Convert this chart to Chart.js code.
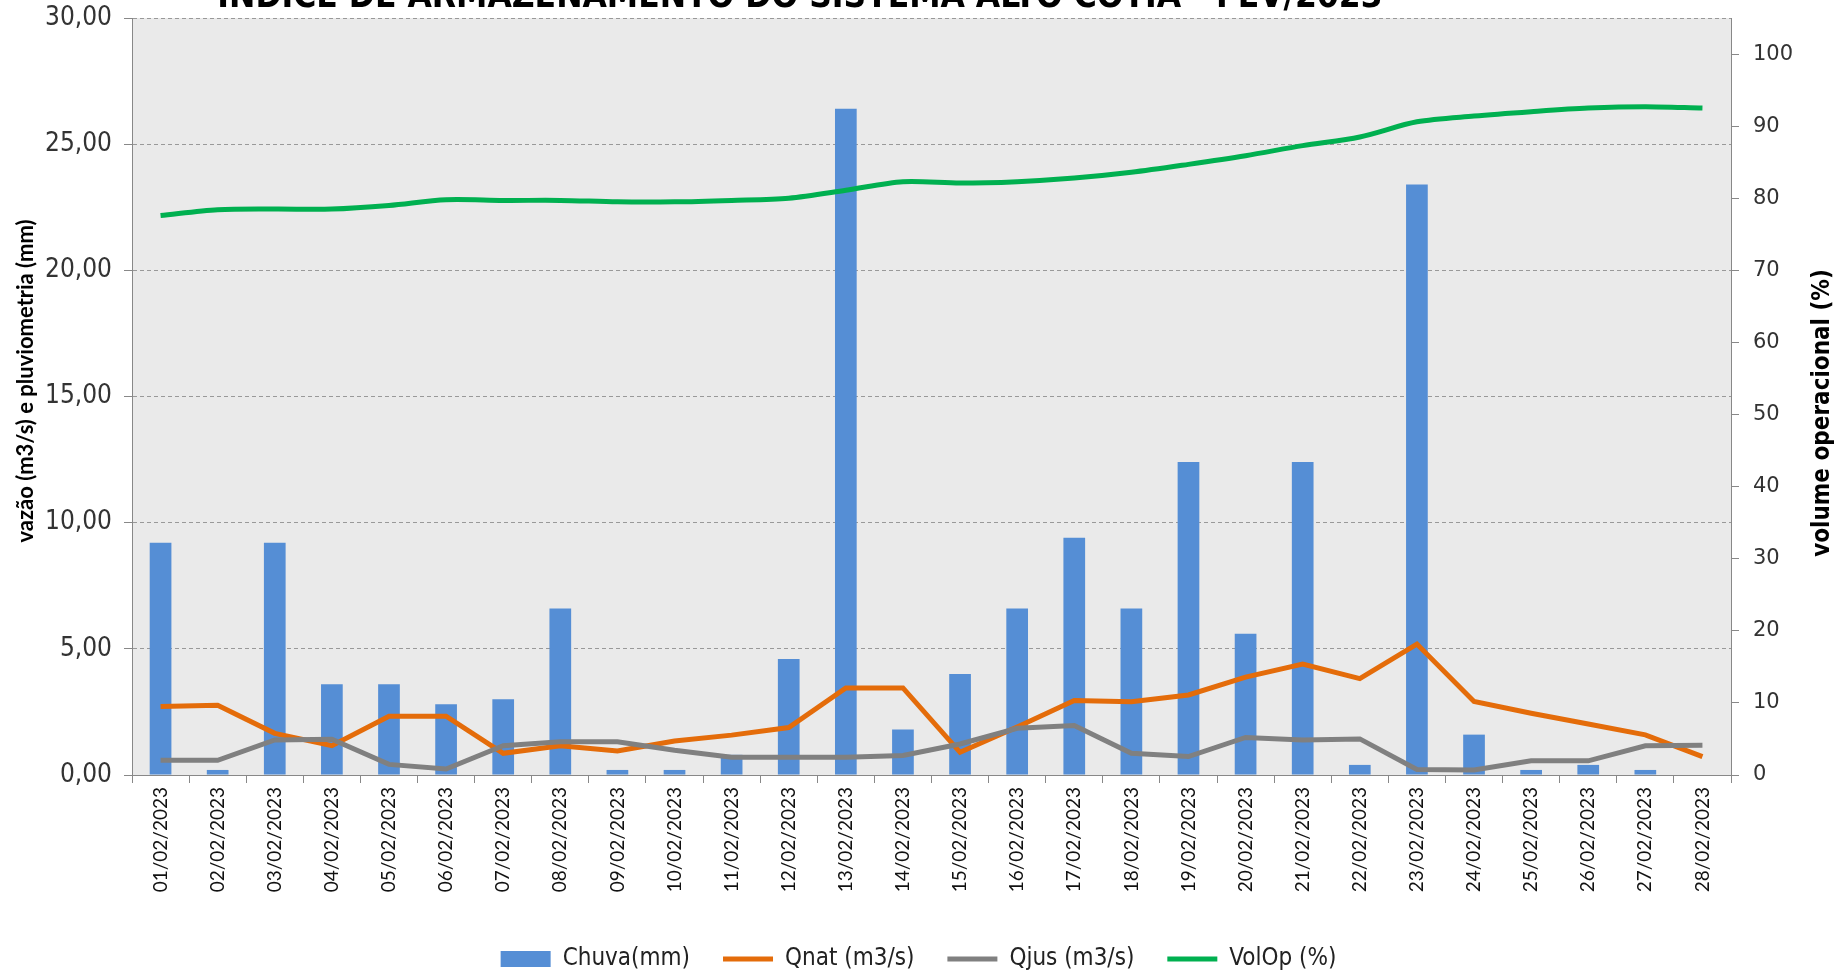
<!DOCTYPE html>
<html>
<head>
<meta charset="utf-8">
<script src="https://cdn.jsdelivr.net/npm/chart.js@4"></script>
<style>
  html, body { margin: 0; padding: 0; background: #fff; }
  canvas { display: block; }
</style>
</head>
<body>
<canvas id="grafico" width="1837" height="970"></canvas>
<script>
// dados
const dias = ['01/02/2023', '02/02/2023', '03/02/2023', '04/02/2023', '05/02/2023', '06/02/2023', '07/02/2023',
  '08/02/2023', '09/02/2023', '10/02/2023', '11/02/2023', '12/02/2023', '13/02/2023', '14/02/2023',
  '15/02/2023', '16/02/2023', '17/02/2023', '18/02/2023', '19/02/2023', '20/02/2023', '21/02/2023',
  '22/02/2023', '23/02/2023', '24/02/2023', '25/02/2023', '26/02/2023', '27/02/2023', '28/02/2023'];
const chuva = [9.2, 0.2, 9.2, 3.6, 3.6, 2.8, 3.0, 6.6, 0.2, 0.2, 0.8, 4.6, 26.4, 1.8,
  4.0, 6.6, 9.4, 6.6, 12.4, 5.6, 12.4, 0.4, 23.4, 1.6, 0.2, 0.4, 0.2, null];
const qnat = [2.71, 2.76, 1.65, 1.16, 2.33, 2.33, 0.86, 1.16, 0.95, 1.35, 1.58, 1.88, 3.45, 3.45,
  0.9, 1.9, 2.95, 2.9, 3.17, 3.88, 4.4, 3.82, 5.19, 2.91, 2.45, 2.02, 1.59, 0.73];
const qjus = [0.58, 0.58, 1.39, 1.42, 0.42, 0.24, 1.16, 1.32, 1.32, 0.98, 0.7, 0.7, 0.7, 0.77,
  1.23, 1.85, 1.96, 0.86, 0.73, 1.49, 1.39, 1.43, 0.22, 0.2, 0.56, 0.56, 1.16, 1.18];
const volOp = [77.6, 78.4, 78.5, 78.5, 79.0, 79.8, 79.7, 79.7, 79.5, 79.5, 79.7, 80.0, 81.1, 82.3,
  82.1, 82.3, 82.8, 83.6, 84.7, 85.9, 87.3, 88.5, 90.6, 91.4, 92.0, 92.5, 92.7, 92.5];

const titulo = 'ÍNDICE DE ARMAZENAMENTO DO SISTEMA ALTO COTIA - FEV/2023';
const tituloEsq = 'vazão (m3/s) e pluviometria (mm)';
const tituloDir = 'volume operacional (%)';
const narrow = '"Liberation Sans Narrow", "Arial Narrow", "DejaVu Sans Condensed", sans-serif';

// texto girado de baixo para cima
function textoVertical(ctx, texto, x, y) {
  ctx.save();
  ctx.translate(x, y);
  ctx.rotate(-Math.PI / 2);
  ctx.textAlign = 'center';
  ctx.textBaseline = 'middle';
  ctx.fillText(texto, 0, 0);
  ctx.restore();
}

// fundo cinza da area do grafico + titulos
const extras = {
  id: 'extras',
  beforeDraw(chart) {
    const { ctx, chartArea: a } = chart;
    ctx.save();
    ctx.fillStyle = '#eaeaea';
    ctx.fillRect(a.left, a.top, a.right - a.left, a.bottom - a.top);
    ctx.restore();
  },
  afterDraw(chart) {
    const ctx = chart.ctx;
    ctx.save();
    ctx.fillStyle = '#000';
    ctx.font = 'bold 35px ' + narrow;
    ctx.textAlign = 'center';
    ctx.textBaseline = 'alphabetic';
    ctx.fillText(titulo, 800, 7);
    ctx.font = 'bold 22px Lato, sans-serif';
    textoVertical(ctx, tituloEsq, 26, 381);
    ctx.font = 'bold 24px ' + narrow;
    textoVertical(ctx, tituloDir, 1823, 413);
    ctx.restore();
  }
};

// tira o espaco extra que o eixo reserva para o rotulo do topo
function semPadding(scale) {
  scale.paddingTop = 0;
  scale.paddingBottom = 0;
}

const ctx = document.getElementById('grafico').getContext('2d');
const grafico = new Chart(ctx, {
  type: 'bar',
  data: {
    labels: dias,
    datasets: [
      {
        label: 'Chuva(mm)',
        data: chuva,
        backgroundColor: '#558ed5',
        yAxisID: 'y',
        order: 4,
        categoryPercentage: 1,
        barPercentage: 0.38,
        pointStyle: 'rect'
      },
      {
        type: 'line',
        label: 'Qnat (m3/s)',
        data: qnat,
        borderColor: '#e46c0a',
        backgroundColor: '#e46c0a',
        borderWidth: 5,
        pointRadius: 0,
        yAxisID: 'y',
        order: 3,
        pointStyle: 'line'
      },
      {
        type: 'line',
        label: 'Qjus (m3/s)',
        data: qjus,
        borderColor: '#808080',
        backgroundColor: '#808080',
        borderWidth: 5,
        pointRadius: 0,
        yAxisID: 'y',
        order: 2,
        pointStyle: 'line'
      },
      {
        type: 'line',
        label: 'VolOp (%)',
        data: volOp,
        borderColor: '#00b050',
        backgroundColor: '#00b050',
        borderWidth: 5,
        pointRadius: 0,
        tension: 0.3,
        yAxisID: 'y1',
        order: 1,
        pointStyle: 'line'
      }
    ]
  },
  options: {
    responsive: false,
    animation: false,
    layout: { padding: { top: 18, left: 0, right: 0, bottom: -11 } },
    plugins: {
      legend: {
        position: 'bottom',
        labels: {
          usePointStyle: true,
          pointStyleWidth: 50,
          boxHeight: 16,
          padding: 33,
          color: '#222',
          font: { family: narrow, size: 24 },
          sort: (a, b) => a.datasetIndex - b.datasetIndex
        }
      },
      tooltip: { enabled: false }
    },
    scales: {
      x: {
        offset: true,
        grid: { display: true, drawOnChartArea: false, offset: true, tickLength: 8, color: '#888' },
        border: { color: '#888' },
        ticks: {
          minRotation: 90,
          maxRotation: 90,
          padding: 4,
          color: '#111',
          font: { family: 'Lato, sans-serif', size: 19 }
        },
        afterFit(scale) {
          scale.height = 970 + 11 - 775 - scale.chart.legend.height;
        }
      },
      y: {
        position: 'left',
        min: 0,
        max: 30,
        ticks: {
          stepSize: 5,
          padding: 12,
          color: '#333',
          font: { family: narrow, size: 26 },
          callback: function (value) {
            return value.toFixed(2).replace('.', ',');
          }
        },
        grid: { color: '#999', tickLength: 8, tickColor: '#888', tickBorderDash: [] },
        border: { color: '#888', dash: [4, 3] },
        afterFit(scale) {
          scale.width = 132;
          semPadding(scale);
        }
      },
      y1: {
        position: 'right',
        min: 0,
        max: 105,
        ticks: {
          stepSize: 10,
          padding: 14,
          color: '#333',
          font: { family: '"DejaVu Sans", sans-serif', size: 21 }
        },
        afterBuildTicks(scale) {
          scale.ticks = scale.ticks.filter(t => t.value <= 100);
        },
        grid: { drawOnChartArea: false, tickLength: 8, color: '#888' },
        border: { color: '#888' },
        afterFit(scale) {
          scale.width = 106;
          semPadding(scale);
        }
      }
    }
  },
  plugins: [extras]
});
</script>
</body>
</html>
